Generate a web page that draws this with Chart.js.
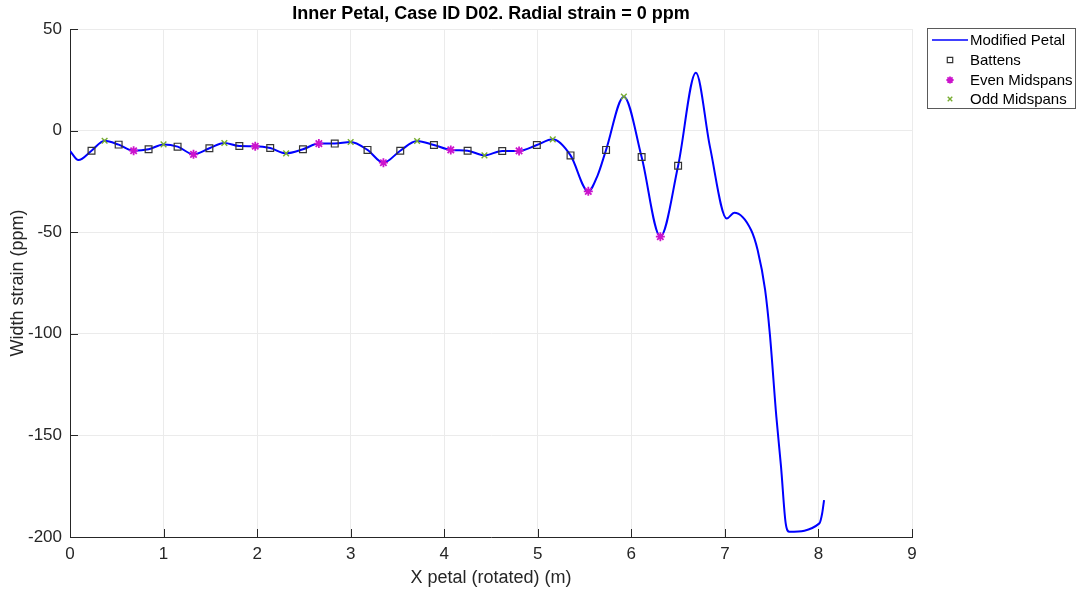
<!DOCTYPE html>
<html>
<head>
<meta charset="utf-8">
<script src="https://cdn.jsdelivr.net/npm/chart.js@4.4.1/dist/chart.umd.min.js"></script>
<style>
  html, body { margin: 0; padding: 0; background: #fff; }
  #wrap { width: 1078px; height: 592px; }
</style>
</head>
<body>
<div id="wrap"><canvas id="petal"></canvas></div>
<script>
// Inner petal width strain

const lineX = [0.00, 0.09, 0.23, 0.37, 0.52, 0.68, 0.84, 1.00, 1.15, 1.32, 1.49, 1.65, 1.81, 1.98, 2.14, 2.31,
  2.49, 2.66, 2.83, 3.00, 3.18, 3.35, 3.53, 3.71, 3.89, 4.07, 4.25, 4.43, 4.62, 4.80, 4.99, 5.16, 5.35, 5.54,
  5.64, 5.73, 5.92, 6.11, 6.31, 6.50, 6.69, 6.84, 7.02, 7.10, 7.28, 7.35, 7.43, 7.48, 7.55, 7.60, 7.65, 7.69,
  8.01, 8.04, 8.06];
const lineY = [-10.0, -14.5, -9.9, -5.0, -6.9, -9.9, -9.2, -6.8, -7.9, -11.7, -8.7, -6.1, -7.6, -7.7, -8.6, -11.2,
  -9.2, -6.4, -6.4, -5.6, -9.5, -15.8, -9.9, -5.1, -7.1, -9.5, -9.9, -12.2, -10.0, -10.0, -7.1, -4.3, -12.2, -29.9,
  -22.0, -9.5, 16.7, -13.0, -52.2, -17.3, 28.5, -7.9, -43.2, -40.4, -48.9, -58.8, -78.4, -99.8, -140.8, -165.4, -193.3, -197.4,
  -193.3, -188.3, -181.8];

const battenX = [0.23, 0.52, 0.84, 1.15, 1.49, 1.81, 2.14, 2.49, 2.83, 3.18, 3.53, 3.89, 4.25, 4.62, 4.99, 5.35, 5.73, 6.11, 6.50];
const battenY = [-9.9, -6.9, -9.2, -7.9, -8.7, -7.6, -8.6, -9.2, -6.4, -9.5, -9.9, -7.1, -9.9, -10.0, -7.1, -12.2, -9.5, -13.0, -17.3];

const evenX = [0.68, 1.32, 1.98, 2.66, 3.35, 4.07, 4.80, 5.54, 6.31];
const evenY = [-9.9, -11.7, -7.7, -6.4, -15.8, -9.5, -10.0, -29.9, -52.2];

const oddX = [0.37, 1.00, 1.65, 2.31, 3.00, 3.71, 4.43, 5.16, 5.92];
const oddY = [-5.0, -6.8, -6.1, -11.2, -5.6, -5.1, -12.2, -4.3, 16.7];

const xTicks = [0, 1, 2, 3, 4, 5, 6, 7, 8, 9];
const yTicks = [-200, -150, -100, -50, 0, 50];

const AXIS_COLOR = '#262626';
const GRID_COLOR = '#ebebeb';
const FONT = '"Liberation Sans", Arial, sans-serif';

const toPoints = (xs, ys) => xs.map((x, i) => ({ x, y: ys[i] }));

// MATLAB style: inward ticks, bold title, boxed legend
const matlabDecor = {
  id: 'matlabDecor',
  afterDraw(chart) {
    const { ctx, chartArea: a, scales } = chart;
    const tl = 8;
    ctx.save();
    ctx.strokeStyle = AXIS_COLOR;
    ctx.lineWidth = 1;
    ctx.beginPath();
    xTicks.forEach(v => {
      const px = Math.round(scales.x.getPixelForValue(v)) + 0.5;
      ctx.moveTo(px, a.bottom);
      ctx.lineTo(px, a.bottom - tl);
    });
    yTicks.forEach(v => {
      const py = Math.round(scales.y.getPixelForValue(v)) + 0.5;
      ctx.moveTo(a.left, py);
      ctx.lineTo(a.left + tl, py);
    });
    ctx.stroke();

    // title
    ctx.fillStyle = '#000';
    ctx.font = 'bold 18px ' + FONT;
    ctx.textAlign = 'center';
    ctx.textBaseline = 'middle';
    ctx.fillText('Inner Petal, Case ID D02. Radial strain = 0 ppm', (a.left + a.right) / 2, 14);

    // legend
    const lx = 927.5, ly = 28.5, lw = 148, lh = 80;
    ctx.fillStyle = '#fff';
    ctx.fillRect(lx, ly, lw, lh);
    ctx.strokeStyle = '#5a5a5a';
    ctx.lineWidth = 1;
    ctx.strokeRect(lx, ly, lw, lh);
    ctx.font = '15px ' + FONT;
    ctx.textAlign = 'left';
    const rows = [40, 60, 80, 99];
    chart.data.datasets.forEach(ds => {
      const ry = rows[ds.legendRow];
      if (ds.showLine) {
        ctx.strokeStyle = ds.borderColor;
        ctx.lineWidth = 1.5;
        ctx.beginPath();
        ctx.moveTo(932, ry);
        ctx.lineTo(968, ry);
        ctx.stroke();
      } else {
        ctx.strokeStyle = ds.borderColor;
        ctx.fillStyle = ds.pointBackgroundColor;
        ctx.lineWidth = ds.borderWidth;
        Chart.helpers.drawPoint(ctx, {
          pointStyle: ds.pointStyle,
          radius: ds.pointRadius * 0.8,
          borderWidth: ds.borderWidth,
          rotation: 0
        }, 950, ry);
      }
      ctx.fillStyle = '#000';
      ctx.fillText(ds.label, 970, ry + 1);
    });
    ctx.restore();
  }
};

new Chart(document.getElementById('petal'), {
  type: 'scatter',
  data: {
    datasets: [
      {
        label: 'Modified Petal',
        data: toPoints(lineX, lineY),
        showLine: true,
        borderColor: '#0000ff',
        borderWidth: 2,
        pointRadius: 0,
        cubicInterpolationMode: 'monotone',
        order: 4,
        legendRow: 0,
      },
      {
        label: 'Battens',
        data: toPoints(battenX, battenY),
        showLine: false,
        pointStyle: 'rect',
        pointRadius: 4.8,
        borderColor: '#333333',
        pointBackgroundColor: 'rgba(0,0,0,0)',
        backgroundColor: 'rgba(0,0,0,0)',
        borderWidth: 1.2,
        order: 1,
        legendRow: 1,
      },
      {
        label: 'Even Midspans',
        data: toPoints(evenX, evenY),
        showLine: false,
        pointStyle: 'star',
        pointRadius: 4.5,
        borderColor: '#cc14cc',
        pointBackgroundColor: '#cc14cc',
        backgroundColor: '#cc14cc',
        borderWidth: 1.8,
        order: 0,
        legendRow: 2,
      },
      {
        label: 'Odd Midspans',
        data: toPoints(oddX, oddY),
        showLine: false,
        pointStyle: 'crossRot',
        pointRadius: 4,
        borderColor: '#77ac30',
        pointBackgroundColor: '#77ac30',
        backgroundColor: '#77ac30',
        borderWidth: 1.4,
        order: 0,
        legendRow: 3,
      }
    ]
  },
  options: {
    responsive: true,
    maintainAspectRatio: false,
    animation: false,
    layout: { padding: { top: 29, right: 166, left: 0, bottom: 0 } },
    plugins: {
      legend: { display: false },
      title: { display: false },
      tooltip: { enabled: false }
    },
    scales: {
      x: {
        type: 'linear',
        min: 0, max: 9,
        afterBuildTicks: s => { s.ticks = xTicks.map(v => ({ value: v })); },
        afterFit: s => { s.height = 55; },
        grid: { color: GRID_COLOR, drawTicks: false },
        border: { color: AXIS_COLOR, width: 1 },
        ticks: { color: AXIS_COLOR, padding: 7, font: { family: FONT, size: 17 }, maxRotation: 0 },
        title: {
          display: true,
          text: 'X petal (rotated) (m)',
          color: AXIS_COLOR,
          font: { family: FONT, size: 18 },
          padding: { top: 0, bottom: 3 }
        }
      },
      y: {
        type: 'linear',
        min: -200, max: 50,
        afterBuildTicks: s => { s.ticks = yTicks.map(v => ({ value: v })); },
        afterFit: s => { s.width = 70; },
        grid: { color: GRID_COLOR, drawTicks: false },
        border: { color: AXIS_COLOR, width: 1 },
        ticks: { color: AXIS_COLOR, padding: 8, font: { family: FONT, size: 17 } },
        title: {
          display: true,
          text: 'Width strain (ppm)',
          color: AXIS_COLOR,
          font: { family: FONT, size: 18 },
          padding: { top: 7, bottom: 0 }
        }
      }
    }
  },
  plugins: [matlabDecor]
});
</script>
</body>
</html>
